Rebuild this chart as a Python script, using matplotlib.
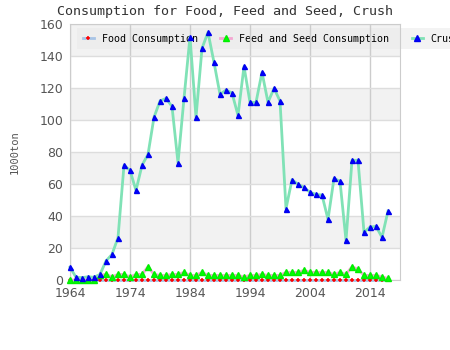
import matplotlib
matplotlib.use("Agg")
import matplotlib.pyplot as plt

# 年次データ（1000トン）
years = list(range(1964, 2018))

food = [0] * 54

feed_seed = [0, 0, 0, 0, 0, 3.1, 3.5, 1.9, 3.5, 3.5,
             1.9, 3.5, 3.5, 8.3, 3.5, 2.9, 2.9, 3.5, 3.5, 4.8,
             2.9, 2.9, 4.8, 2.9, 2.9, 2.9, 2.9, 2.9, 2.9, 1.9,
             2.9, 2.9, 3.5, 2.9, 2.9, 2.9, 4.8, 4.8, 4.8, 6.0,
             4.8, 4.8, 4.8, 4.8, 3.5, 4.8, 3.5, 8.3, 6.7, 2.9,
             2.9, 2.9, 1.9, 1.0]

crush = [8, 1.7, 1.5, 2, 1.7, 3.5, 11.9, 16, 26.5, 71.7,
         68.5, 56, 71.7, 78.5, 101.7, 111.9, 113.5, 108.5, 73.3, 113.5,
         152, 101.7, 144.8, 154.8, 136, 116, 118.75, 116.9, 102.9, 133.5,
         111, 111, 129.8, 111, 119.8, 111.9, 44.6, 62.7, 59.8, 57.9,
         54.8, 53.5, 53.1, 37.9, 63.5, 61.7, 24.8, 74.8, 74.8, 29.8,
         33.1, 33.5, 26.7, 43.1]

series_labels = ["Food Consumption", "Feed and Seed Consumption", "Crush"]
x_ticks = [1964, 1974, 1984, 1994, 2004, 2014]
y_ticks = [0, 20, 40, 60, 80, 100, 120, 140, 160]

mono = "DejaVu Sans Mono"

fig = plt.figure(figsize=(4.5, 3.5), dpi=100)
ax = fig.add_axes([70 / 450, 70 / 350, 330 / 450, 256 / 350])

# 背景の縞模様
for lo in (20, 60, 100, 140):
    ax.axhspan(lo, lo + 20, color="#f2f2f2", zorder=0.1, lw=0)

ax.set_axisbelow(True)
ax.grid(axis="y", color="#dddddd", linewidth=1)
ax.grid(axis="x", color="#cccccc", linewidth=1)

ax.plot(years, food, color="#a8c4e6", lw=2, marker="+", ms=3, mew=1.1,
        mec="red", mfc="red", label=series_labels[0], clip_on=False, zorder=3)
ax.plot(years, feed_seed, color="#f4a6d2", lw=2, marker="^", ms=4,
        mec="#00ee00", mfc="#00ff00", label=series_labels[1], clip_on=False, zorder=3)
ax.plot(years, crush, color="#80e2b6", lw=2, marker="^", ms=3.6,
        mec="#0000ee", mfc="#0000ff", label=series_labels[2], clip_on=False, zorder=3)

ax.set_xlim(1964, 2019)
ax.set_ylim(0, 160)
ax.set_xticks(x_ticks)
ax.set_yticks(y_ticks)
ax.tick_params(length=0, labelsize=9, colors="#555555", pad=5)
for s in ax.spines.values():
    s.set_color("#cccccc")

ax.set_ylabel("1000ton", fontfamily=mono, fontsize=7.5, color="#555555", labelpad=14)

fig.text(0.5, 1 - 11 / 350, "Consumption for Food, Feed and Seed, Crush",
         ha="center", va="center", fontfamily=mono, fontsize=9.6, color="#333333")

# 凡例は上部に横並び（グリッドより下に描く）
leg = ax.legend(loc="upper left", bbox_to_anchor=(77 / 450, 1 - 28 / 350),
                bbox_transform=fig.transFigure, ncol=3, frameon=True,
                prop={"family": mono, "size": 7.2}, handlelength=1.1,
                handletextpad=0.8, columnspacing=2.25, borderpad=0.55,
                borderaxespad=0, fancybox=False, markerscale=1.2)
leg.get_frame().set_facecolor("#eaeaea")
leg.get_frame().set_alpha(0.55)
leg.get_frame().set_linewidth(0)
leg.set_zorder(0.3)

fig.savefig("out.png", dpi=100)
